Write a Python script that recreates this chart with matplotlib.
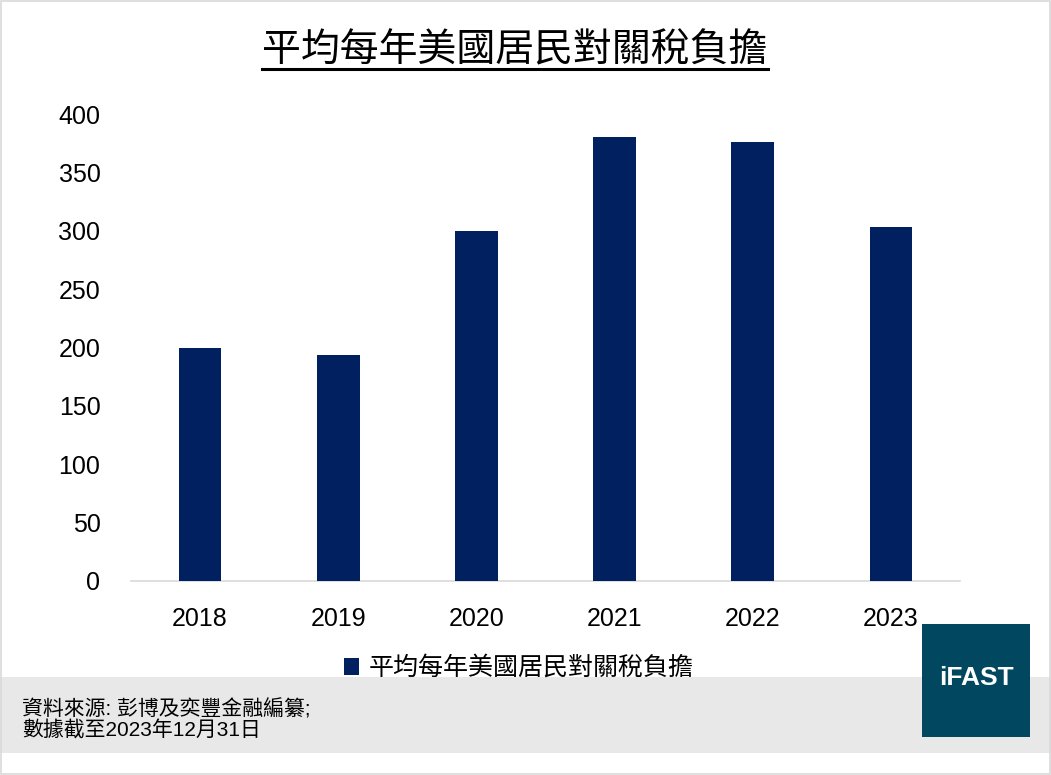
import matplotlib
matplotlib.use("Agg")
import matplotlib.pyplot as plt
from matplotlib.patches import Rectangle
from matplotlib.lines import Line2D

plt.rcParams['font.family'] = ['Liberation Sans', 'Noto Sans CJK TC', 'DejaVu Sans']

years = ['2018', '2019', '2020', '2021', '2022', '2023']
burden = [200, 194, 300, 380, 376, 303]
yticks = [0, 50, 100, 150, 200, 250, 300, 350, 400]
series_name = '平均每年美國居民對關稅負擔'
title = '平均每年美國居民對關稅負擔'
source_lines = ['資料來源: 彭博及奕豐金融編纂;', '數據截至2023年12月31日']

bar_color = '#00205F'

fig = plt.figure(figsize=(10.51, 7.75), dpi=100)
W, H = 1051, 775

# footer band and page border
fig.patches.append(Rectangle((0, 1 - 753 / H), 1, 76 / H, transform=fig.transFigure,
                             facecolor='#E8E8E8', edgecolor='none', zorder=0))
fig.patches.append(Rectangle((0.001, 0.001), 0.998, 0.998, transform=fig.transFigure,
                             facecolor='none', edgecolor='#D9D9D9', lw=1.2, zorder=5))

ax = fig.add_axes([131 / W, 1 - 581 / H, 829 / W, 467 / H])
x = range(len(years))
bars = ax.bar(x, burden, width=0.31, color=bar_color, label=series_name, zorder=3)
ax.set_xlim(-0.5, len(years) - 0.5)
ax.set_ylim(0, 400)
ax.set_yticks(yticks)
ax.set_xticks(list(x))
ax.set_xticklabels(years)
for s in ['top', 'right', 'left']:
    ax.spines[s].set_visible(False)
ax.spines['bottom'].set_color('#D9D9D9')
ax.spines['bottom'].set_linewidth(1.2)
ax.tick_params(axis='both', length=0, labelsize=18, colors='black')
ax.tick_params(axis='x', pad=19)
ax.tick_params(axis='y', pad=22)

leg = fig.legend(handles=[bars], labels=[series_name], loc='center',
                 bbox_to_anchor=(519 / W, 1 - 668 / H), frameon=False, fontsize=18,
                 handlelength=0.6, handleheight=0.7, handletextpad=0.4)

# title with underline
t = fig.text(515 / W, 1 - 50 / H, title, ha='center', va='center', fontsize=28,
             family=['Noto Sans CJK TC'])
fig.canvas.draw()
bb = t.get_window_extent().transformed(fig.transFigure.inverted())
fig.add_artist(Line2D([bb.x0, bb.x1], [1 - 69 / H, 1 - 69 / H], transform=fig.transFigure,
                      color='black', lw=2.2))

fig.text(22 / W, 1 - 709 / H, source_lines[0], ha='left', va='center', fontsize=15)
fig.text(22 / W, 1 - 731 / H, source_lines[1], ha='left', va='center', fontsize=15)

# logo
fig.patches.append(Rectangle((922 / W, 1 - 737 / H), 108 / W, 113 / H, transform=fig.transFigure,
                             facecolor='#00475F', edgecolor='none', zorder=2))
fig.text(976 / W, 1 - 678 / H, 'iFAST', ha='center', va='center', fontsize=19,
         fontweight='bold', color='white', zorder=3)

fig.savefig('out.png', dpi=100)
